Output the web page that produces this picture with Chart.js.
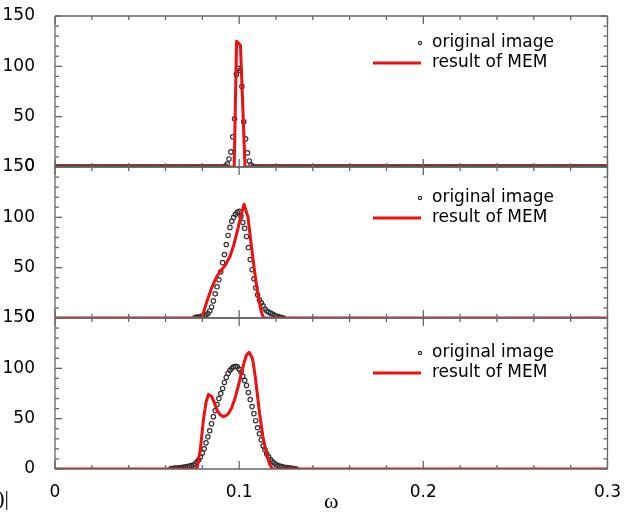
<!DOCTYPE html>
<html>
<head>
<meta charset="utf-8">
<script src="https://cdn.jsdelivr.net/npm/chart.js@4.4.1/dist/chart.umd.min.js"></script>
<style>
  html, body { margin: 0; padding: 0; background: #fff; }
  #wrap { position: relative; width: 626px; height: 515px; }
</style>
</head>
<body>
<div id="wrap"><canvas id="c" width="626" height="515"></canvas></div>
<script>
// ---- axis ticks ----
const omegaTicks = [0, 0.1, 0.2, 0.3];
const omegaTickLabels = ['0', '0.1', '0.2', '0.3'];
const ampTicks = [0, 50, 100, 150];
const seriesNames = ['original image', 'result of MEM'];

// ---- original image, sampled every 0.001 in ω ----
const origStep = 0.001;

// top panel: narrow line (this image is sampled over the whole ω range, half-step offset)
const origStart1 = 0.0925;
const orig1 = [1, 3, 8, 15, 30, 48, 92, 98, 96, 80, 45, 28, 14, 6, 2, 0.5];
const origRange1 = [0.0005, 0.2995];

// middle panel
const origStart2 = 0.076;
const orig2 = [0.5, 1, 1, 1.5, 2, 2.5, 3, 4.5, 7, 11, 17, 24, 31, 38, 46, 55, 63, 73, 82, 90,
               96, 100, 103, 105, 106, 101, 95, 89, 81, 70, 58, 48, 39, 30, 23, 18, 15, 12, 9, 7,
               6, 5, 4, 3, 2, 1.5, 1, 0.5, 0];

// bottom panel
const origStart3 = 0.063;
const orig3 = [0.5, 0.5, 1, 1, 1, 1.5, 1.5, 2, 2, 2.5, 3, 3.5, 4, 5, 7, 9, 12, 16, 20, 26,
               32, 38, 45, 52, 58, 64, 70, 75, 80, 86, 91, 95, 98, 100, 101.5, 102, 101.5, 99, 96, 92,
               88, 83, 76, 69, 62, 55, 48, 41, 35, 29, 23, 19, 15, 12, 9.5, 7.5, 6, 4.5, 3.5, 3,
               2.5, 2, 1.5, 1.5, 1, 1, 0.5, 0.5, 0];

// ---- MEM reconstruction ----
const memOmega1 = [0, 0.0973, 0.0986, 0.1007, 0.1032, 0.3];
const memValue1 = [0, 0, 125, 121, 0, 0];

const memOmega2 = [0, 0.0797, 0.0824, 0.0851, 0.0878, 0.0905, 0.0923, 0.0950, 0.0970, 0.0995,
                   0.1010, 0.1027, 0.1048, 0.1066, 0.1084, 0.1102, 0.1120, 0.1133, 0.3];
const memValue2 = [0, 0, 16, 30, 41, 48, 52, 61, 72, 90, 102, 113, 100, 72, 46, 23, 6, 0, 0];

const memOmega3 = [0, 0.0770, 0.0789, 0.0806, 0.0820, 0.0833, 0.0851, 0.0865, 0.0878, 0.0896,
                   0.0914, 0.0928, 0.0941, 0.0960, 0.0977, 0.0995, 0.1012, 0.1026, 0.1039, 0.1054,
                   0.1072, 0.1081, 0.1090, 0.1100, 0.1111, 0.1129, 0.1150, 0.1165, 0.1180, 0.3];
const memValue3 = [0, 0, 19, 49, 66, 74, 72, 66, 59, 54,
                   52, 53, 55, 61, 70, 82, 95, 105, 113, 116,
                   110, 100, 88, 72, 55, 32, 14, 5, 0, 0];

// ---- helpers to build {x, y} points ----
// samples outside the listed values read as zero
function origPoints(start, values, range) {
  const first = range ? range[0] : start;
  const last = range ? range[1] : start + (values.length - 1) * origStep;
  const n = Math.round((last - first) / origStep);
  const pts = [];
  for (let k = 0; k <= n; k++) {
    const x = +(first + k * origStep).toFixed(5);
    const j = Math.round((x - start) / origStep);
    pts.push({ x: x, y: (j >= 0 && j < values.length) ? values[j] : 0 });
  }
  return pts;
}
function memPoints(omega, values) {
  return omega.map((w, i) => ({ x: w, y: values[i] }));
}

const panelIds = ['yTop', 'yMid', 'yBot'];
const legendOffsets = [27, 31, 35];   // legend first-row distance below each panel top
const sansFont = { family: '"DejaVu Sans", sans-serif', size: 17 };

function memDataset(pts, axis) {
  return {
    label: seriesNames[1], data: pts, yAxisID: axis, xAxisID: 'x', order: 0,
    borderColor: '#ee1010', borderWidth: 3, borderJoinStyle: 'round', borderCapStyle: 'round',
    pointRadius: 0, tension: 0, fill: false
  };
}
function origDataset(pts, axis) {
  return {
    label: seriesNames[0], data: pts, yAxisID: axis, xAxisID: 'x', order: 1,
    showLine: false, pointStyle: 'circle', pointRadius: 2.2, pointBorderWidth: 1.2,
    pointBorderColor: '#303030', pointBackgroundColor: 'rgba(255,255,255,0)'
  };
}

function yScale(weight) {
  return {
    type: 'linear', position: 'left', stack: 'panels', stackWeight: 1, weight: weight,
    min: 0, max: 150,
    afterBuildTicks: s => { s.ticks = ampTicks.map(v => ({ value: v })); },
    afterFit: s => { s.width = 55; s.paddingTop = 0; s.paddingBottom = 0; },
    ticks: { font: sansFont, color: '#000', padding: 12, autoSkip: false,
             callback: v => String(v) },
    grid: { display: false }, border: { display: false }
  };
}

// frame of every panel with inward tick marks on all four sides
function drawFrames(chart) {
  const ctx = chart.ctx;
  const xs = chart.scales.x;
  const L = xs.left, R = xs.right;
  ctx.save();
  ctx.strokeStyle = '#666666';
  ctx.lineWidth = 1.3;
  ctx.lineCap = 'butt';
  const seg = (x1, y1, x2, y2) => {
    ctx.beginPath(); ctx.moveTo(x1, y1); ctx.lineTo(x2, y2); ctx.stroke();
  };
  for (const id of panelIds) {
    const ys = chart.scales[id];
    const T = ys.top, B = ys.bottom;
    seg(L, T, R, T); seg(R, T, R, B); seg(R, B, L, B); seg(L, B, L, T);
    // amplitude ticks every 10, longer every 50
    for (let k = 0; k <= 15; k++) {
      const y = ys.getPixelForValue(k * 10);
      const len = k % 5 === 0 ? 7 : 4;
      seg(L, y, L + len, y);
      seg(R, y, R - len, y);
    }
    // ω ticks every 0.02, longer every 0.1
    for (let k = 0; k <= 15; k++) {
      const x = xs.getPixelForValue(k * 0.02);
      const len = k % 5 === 0 ? 8 : 4;
      seg(x, T, x, T + len);
      seg(x, B, x, B - len);
    }
  }
  ctx.restore();
}

function drawLegends(chart) {
  const ctx = chart.ctx;
  ctx.save();
  ctx.font = '17px "DejaVu Sans", sans-serif';
  ctx.textBaseline = 'middle';
  ctx.textAlign = 'left';
  ctx.fillStyle = '#000';
  panelIds.forEach((id, i) => {
    const ys = chart.scales[id];
    const y1 = ys.top + legendOffsets[i];
    const y2 = y1 + 20;
    ctx.beginPath();
    ctx.arc(420, y1, 1.6, 0, Math.PI * 2);
    ctx.strokeStyle = '#2a2a2a'; ctx.lineWidth = 1.2; ctx.stroke();
    ctx.fillText(seriesNames[0], 432, y1);
    ctx.beginPath();
    ctx.moveTo(373, y2); ctx.lineTo(421, y2);
    ctx.strokeStyle = '#ee1010'; ctx.lineWidth = 3; ctx.stroke();
    ctx.fillText(seriesNames[1], 432, y2);
  });
  // axis label fragment at the lower-left edge
  ctx.font = '22px "Liberation Serif", serif';
  ctx.textAlign = 'right';
  ctx.fillText('|f(ω)|', 9, 499);
  ctx.restore();
}

const panelDecor = {
  id: 'panelDecor',
  afterDraw(chart) {
    drawFrames(chart);
    drawLegends(chart);
  }
};

new Chart(document.getElementById('c'), {
  type: 'line',
  data: {
    datasets: [
      memDataset(memPoints(memOmega1, memValue1), 'yTop'),
      memDataset(memPoints(memOmega2, memValue2), 'yMid'),
      memDataset(memPoints(memOmega3, memValue3), 'yBot'),
      origDataset(origPoints(origStart1, orig1, origRange1), 'yTop'),
      origDataset(origPoints(origStart2, orig2), 'yMid'),
      origDataset(origPoints(origStart3, orig3), 'yBot')
    ]
  },
  options: {
    responsive: false,
    animation: false,
    devicePixelRatio: 1,
    layout: { padding: { left: 0, right: 13, top: 16, bottom: 0 } },
    plugins: { legend: { display: false }, tooltip: { enabled: false } },
    scales: {
      x: {
        type: 'linear', position: 'bottom', min: 0, max: 0.3,
        afterBuildTicks: s => { s.ticks = omegaTicks.map(v => ({ value: v })); },
        afterFit: s => { s.height = 46; },
        ticks: { font: sansFont, color: '#000', padding: 5, maxRotation: 0, autoSkip: false,
                 callback: (v, i) => omegaTickLabels[i] },
        grid: { display: false }, border: { display: false },
        title: { display: true, text: 'ω', color: '#000',
                 font: { family: '"Liberation Serif", serif', size: 22, lineHeight: 1.2 },
                 padding: { top: 0, bottom: 0 } }
      },
      yTop: yScale(3),
      yMid: yScale(2),
      yBot: yScale(1)
    }
  },
  plugins: [panelDecor]
});
</script>
</body>
</html>
